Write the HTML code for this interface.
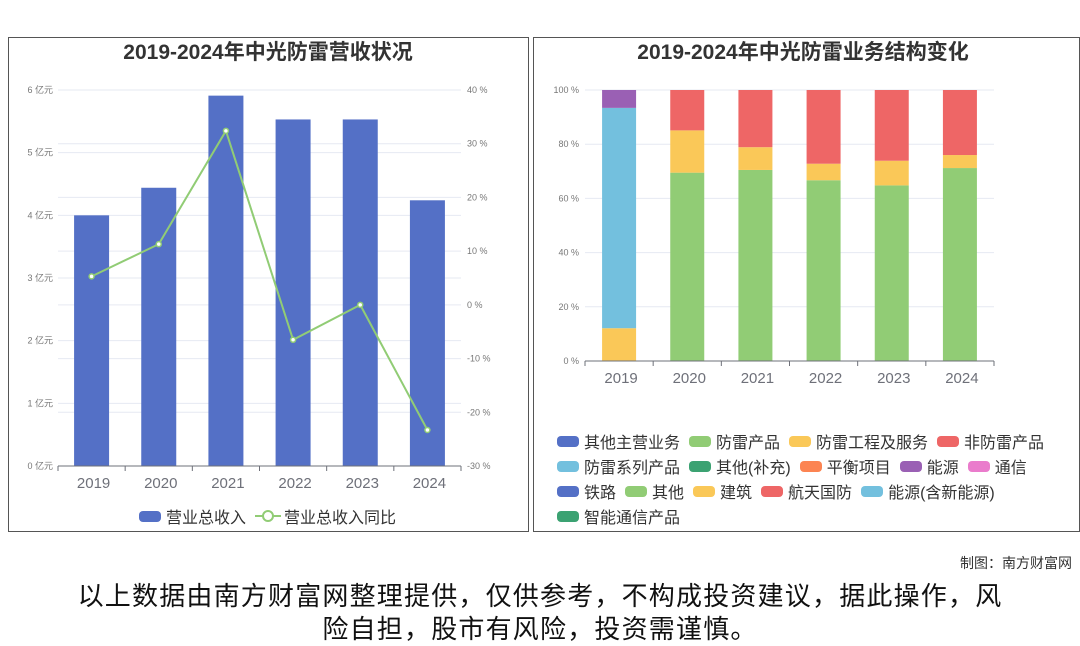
<!DOCTYPE html>
<html><head><meta charset="utf-8">
<style>
body{margin:0;width:1080px;height:646px;background:#fff;font-family:"Liberation Sans","Noto Sans CJK SC",sans-serif;overflow:hidden;position:relative}
.panel{position:absolute;border:1px solid #555;background:#fff}
.legend{position:absolute;display:flex;flex-wrap:wrap;font-size:16px;color:#333;row-gap:5px;column-gap:9px}
.li{display:flex;align-items:center;height:20px}
.sw{width:22px;height:11px;border-radius:4px;margin-right:5px}
</style></head><body>
<div class="panel" style="left:8px;top:37px;width:519px;height:493px"></div>
<div class="panel" style="left:533px;top:37px;width:545px;height:493px"></div>
<svg id="c1" width="1080" height="646" style="position:absolute;left:0;top:0">
<text x="268" y="59" text-anchor="middle" font-size="21" font-weight="bold" fill="#333">2019-2024年中光防雷营收状况</text>
<text x="803" y="59" text-anchor="middle" font-size="21" font-weight="bold" fill="#333">2019-2024年中光防雷业务结构变化</text>
</svg>
<div class="legend" style="left:139px;top:506px">
<div class="li"><div class="sw" style="background:#5470c6"></div>营业总收入</div>
<div class="li"><svg width="26" height="12" style="margin-right:3px"><line x1="0" y1="6" x2="26" y2="6" stroke="#91cc75" stroke-width="2"/><circle cx="13" cy="6" r="5" fill="#fff" stroke="#91cc75" stroke-width="2"/></svg>营业总收入同比</div>
</div>
<div class="legend" id="lg2" style="left:557px;top:431px;width:520px"></div>
<div style="position:absolute;right:8px;top:553px;font-size:14px;color:#333">制图：南方财富网</div>
<div style="position:absolute;left:40px;width:1000px;top:580px;text-align:center;font-size:26px;line-height:33px;letter-spacing:1.2px;color:#111">以上数据由南方财富网整理提供，仅供参考，不构成投资建议，据此操作，风<br>险自担，股市有风险，投资需谨慎。</div>
<script>
const years=['2019','2020','2021','2022','2023','2024'];
const revenue=[4.0,4.44,5.91,5.53,5.53,4.24];
const yoy=[5.3,11.3,32.4,-6.5,0,-23.3];
const leftTicks=[0,1,2,3,4,5,6];
const rightTicks=[-30,-20,-10,0,10,20,30,40];
const segNames=['防雷产品','防雷工程及服务','防雷系列产品','能源','非防雷产品'];
const segColors=['#91cc75','#fac858','#73c0de','#9a60b4','#ee6666'];
const s_chanpin=[0,69.5,70.5,66.7,64.8,71.2];
const s_gongcheng=[12.1,15.6,8.4,6.1,9.1,4.8];
const s_xilie=[81.3,0,0,0,0,0];
const s_nengyuan=[6.6,0,0,0,0,0];
const s_fei=[0,14.9,21.1,27.2,26.1,24.0];
const pctTicks=[0,20,40,60,80,100];
const legendNames=['其他主营业务','防雷产品','防雷工程及服务','非防雷产品','防雷系列产品','其他(补充)','平衡项目','能源','通信','铁路','其他','建筑','航天国防','能源(含新能源)','智能通信产品'];
const legendColors=['#5470c6','#91cc75','#fac858','#ee6666','#73c0de','#3ba272','#fc8452','#9a60b4','#ea7ccc','#5470c6','#91cc75','#fac858','#ee6666','#73c0de','#3ba272'];
const NS='http://www.w3.org/2000/svg';
const svg=document.getElementById('c1');
function mk(t,a,p){const e=document.createElementNS(NS,t);for(const k in a)e.setAttribute(k,a[k]);(p||svg).appendChild(e);return e;}
const L={x0:58,x1:461,y0:466,y1:90};
const yL=v=>L.y0-(v/6)*(L.y0-L.y1);
const yR=v=>L.y0-((v+30)/70)*(L.y0-L.y1);
const bw=(L.x1-L.x0)/6;
const xc=i=>L.x0+bw*(i+0.5);
leftTicks.forEach(t=>{if(t>0){const g=mk('line',{x1:L.x0,x2:L.x1,y1:yL(t),y2:yL(t),stroke:'#e6e9f2'});}
const tx=mk('text',{x:53,y:yL(t)+3,'text-anchor':'end','font-size':9,fill:'#777'});tx.textContent=t+' 亿元';});
rightTicks.forEach(t=>{if(t>-30){const g=mk('line',{x1:L.x0,x2:L.x1,y1:yR(t),y2:yR(t),stroke:'#e6e9f2'});}
const tx=mk('text',{x:467,y:yR(t)+3,'font-size':9,fill:'#777'});tx.textContent=t+' %';});
revenue.forEach((v,i)=>{const r=mk('rect',{x:xc(i)-17.5,y:yL(v),width:35,height:L.y0-yL(v),fill:'#5470c6'});});
mk('line',{x1:L.x0,x2:L.x1,y1:L.y0,y2:L.y0,stroke:'#6e7079'});
years.forEach((y,i)=>{mk('line',{x1:L.x0+bw*i,x2:L.x0+bw*i,y1:L.y0,y2:L.y0+5,stroke:'#6e7079'});
const tx=mk('text',{x:xc(i)+2,y:L.y0+22,'text-anchor':'middle','font-size':15,fill:'#6e7079'});tx.textContent=y;});
mk('line',{x1:L.x1,x2:L.x1,y1:L.y0,y2:L.y0+5,stroke:'#6e7079'});
const pl=mk('polyline',{points:yoy.map((v,i)=>xc(i)+','+yR(v)).join(' '),fill:'none',stroke:'#91cc75','stroke-width':2});

yoy.forEach((v,i)=>{const c=mk('circle',{cx:xc(i),cy:yR(v),r:2.5,fill:'#fff',stroke:'#91cc75','stroke-width':1.5});});
const R={x0:585,x1:994,y0:361,y1:90};
const rbw=(R.x1-R.x0)/6;
const rxc=i=>R.x0+rbw*(i+0.5);
const yP=v=>R.y0-(v/100)*(R.y0-R.y1);
pctTicks.forEach(t=>{if(t>0){const g=mk('line',{x1:R.x0,x2:R.x1,y1:yP(t),y2:yP(t),stroke:'#e6e9f2'});}
const tx=mk('text',{x:579,y:yP(t)+3,'text-anchor':'end','font-size':9,fill:'#777'});tx.textContent=t+' %';});
const series=[s_chanpin,s_gongcheng,s_xilie,s_nengyuan,s_fei];
years.forEach((y,i)=>{let acc=0;series.forEach((s,k)=>{const v=s[i];if(v>0){const r=mk('rect',{x:rxc(i)-17,y:yP(acc+v),width:34,height:yP(acc)-yP(acc+v),fill:segColors[k]});}acc+=v;});});
mk('line',{x1:R.x0,x2:R.x1,y1:R.y0,y2:R.y0,stroke:'#6e7079'});
years.forEach((y,i)=>{mk('line',{x1:R.x0+rbw*i,x2:R.x0+rbw*i,y1:R.y0,y2:R.y0+5,stroke:'#6e7079'});
const tx=mk('text',{x:rxc(i)+2,y:R.y0+22,'text-anchor':'middle','font-size':15,fill:'#6e7079'});tx.textContent=y;});
mk('line',{x1:R.x1,x2:R.x1,y1:R.y0,y2:R.y0+5,stroke:'#6e7079'});
const lg=document.getElementById('lg2');
legendNames.forEach((n,i)=>{const d=document.createElement('div');d.className='li';


d.innerHTML='<div class="sw" style="background:'+legendColors[i]+'"></div>'+n;lg.appendChild(d);});
</script>
</body></html>
